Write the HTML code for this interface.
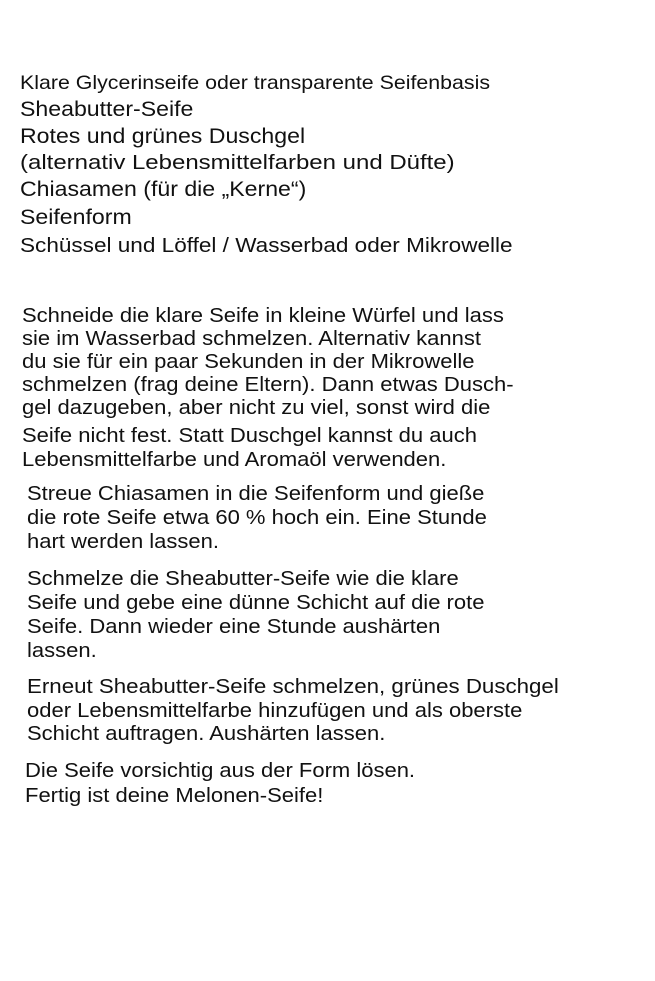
<!DOCTYPE html>
<html><head><meta charset="utf-8"><style>
body{margin:0;background:#fff;width:655px;height:981px;position:relative;overflow:hidden;font-family:"Liberation Sans","DejaVu Sans",sans-serif;color:#111}
.l{position:absolute;white-space:nowrap;font-size:20px;line-height:24px;transform:scaleX(1.1);transform-origin:0 50%}
</style></head><body>
<div class="l" style="left:20px;top:71px;font-size:19.5px;transform:scaleX(1.095)">Klare Glycerinseife oder transparente Seifenbasis</div>
<div class="l" style="left:20px;top:98px;font-size:21px">Sheabutter-Seife</div>
<div class="l" style="left:20px;top:125px;font-size:21px">Rotes und grünes Duschgel</div>
<div class="l" style="left:20px;top:151px;font-size:20.5px;transform:scaleX(1.17)">(alternativ Lebensmittelfarben und Düfte)</div>
<div class="l" style="left:20px;top:178px;font-size:21px">Chiasamen (für die „Kerne“)</div>
<div class="l" style="left:20px;top:206px;font-size:21px">Seifenform</div>
<div class="l" style="left:20px;top:234px;font-size:20.5px">Schüssel und Löffel / Wasserbad oder Mikrowelle</div>

<div class="l" style="left:22px;top:304px">Schneide die klare Seife in kleine Würfel und lass</div>
<div class="l" style="left:22px;top:327px">sie im Wasserbad schmelzen. Alternativ kannst</div>
<div class="l" style="left:22px;top:350px">du sie für ein paar Sekunden in der Mikrowelle</div>
<div class="l" style="left:22px;top:373px">schmelzen (frag deine Eltern). Dann etwas Dusch-</div>
<div class="l" style="left:22px;top:396px">gel dazugeben, aber nicht zu viel, sonst wird die</div>
<div class="l" style="left:22px;top:424px">Seife nicht fest. Statt Duschgel kannst du auch</div>
<div class="l" style="left:22px;top:448px">Lebensmittelfarbe und Aromaöl verwenden.</div>

<div class="l" style="left:27px;top:482px">Streue Chiasamen in die Seifenform und gieße</div>
<div class="l" style="left:27px;top:506px">die rote Seife etwa 60 % hoch ein. Eine Stunde</div>
<div class="l" style="left:27px;top:530px">hart werden lassen.</div>

<div class="l" style="left:27px;top:567px">Schmelze die Sheabutter-Seife wie die klare</div>
<div class="l" style="left:27px;top:591px">Seife und gebe eine dünne Schicht auf die rote</div>
<div class="l" style="left:27px;top:615px">Seife. Dann wieder eine Stunde aushärten</div>
<div class="l" style="left:27px;top:639px">lassen.</div>

<div class="l" style="left:27px;top:675px;transform:scaleX(1.115)">Erneut Sheabutter-Seife schmelzen, grünes Duschgel</div>
<div class="l" style="left:27px;top:699px">oder Lebensmittelfarbe hinzufügen und als oberste</div>
<div class="l" style="left:27px;top:722px">Schicht auftragen. Aushärten lassen.</div>

<div class="l" style="left:25px;top:759px">Die Seife vorsichtig aus der Form lösen.</div>
<div class="l" style="left:25px;top:784px">Fertig ist deine Melonen-Seife!</div>
</body></html>
